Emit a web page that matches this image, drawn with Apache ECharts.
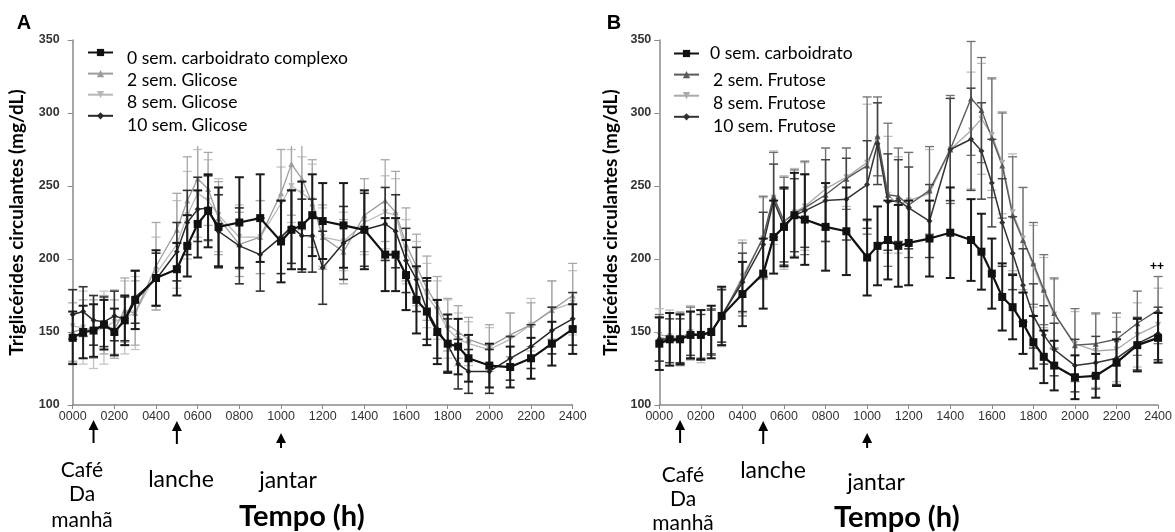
<!DOCTYPE html>
<html><head><meta charset="utf-8">
<script src="https://cdn.jsdelivr.net/npm/echarts@6/dist/echarts.min.js"></script>
<style>html,body{margin:0;padding:0;background:#fff}#c{width:1175px;height:532px}</style>
</head><body><div id="c"></div>
<script>
// ---------- DATA ----------
const times = [0,0.5,1,1.5,2,2.5,3,4,5,5.5,6,6.5,7,8,9,10,10.5,11,11.5,12,13,14,15,15.5,16,16.5,17,17.5,18,18.5,19,20,21,22,23,24];
const xTickLabels = ['0000','0200','0400','0600','0800','1000','1200','1400','1600','1800','2000','2200','2400'];

const namesA = ['0 sem. carboidrato complexo','2 sem. Glicose','8 sem. Glicose','10 sem. Glicose'];
const namesB = ['0 sem. carboidrato','2 sem. Frutose','8 sem. Frutose','10 sem. Frutose'];

// Panel A (glucose)
const a0  = [146,150,151,155,150,158,172,187,193,209,224,233,222,225,228,212,220,223,230,226,223,220,203,203,189,172,164,150,142,140,132,127,126,132,142,152];
const a0e = [18,18,18,17,16,17,20,19,18,21,23,25,27,31,30,28,27,30,28,26,29,27,25,25,24,23,23,22,20,19,16,15,14,14,15,17];
const a2  = [150,152,152,155,152,165,163,195,220,240,255,248,228,210,215,245,265,255,238,215,205,230,240,232,210,195,180,168,155,150,145,140,148,155,165,175];
const a2e = [20,20,20,20,20,22,22,30,25,30,30,25,25,22,25,30,35,30,30,22,22,25,28,28,25,22,22,20,18,18,15,15,15,15,20,22];
const a8  = [154,153,150,153,157,160,163,190,210,230,245,240,230,215,215,238,250,245,240,215,212,225,232,230,205,190,175,165,152,145,142,138,145,155,165,170];
const a8e = [25,25,25,25,22,25,25,25,30,30,30,28,25,22,25,25,25,25,25,20,20,22,25,25,22,22,22,20,20,18,15,15,18,18,20,22];
const a10  = [162,164,158,157,161,159,174,186,205,225,234,235,219,209,203,215,222,216,216,194,211,220,224,219,199,186,165,152,141,128,123,123,132,140,151,159];
const a10e = [17,17,17,17,17,15,18,18,20,22,22,22,25,26,25,25,25,25,25,25,25,25,25,25,22,22,20,20,18,17,15,15,15,15,16,18];

// Panel B (fructose)
const b0  = [142,145,145,148,148,150,161,176,190,215,222,230,227,222,219,201,209,213,209,211,214,218,213,205,190,174,167,156,143,133,127,119,120,129,141,146];
const b0e = [18,18,17,16,17,18,20,22,24,25,27,29,31,30,30,26,27,27,28,29,26,31,28,26,24,23,22,21,18,18,17,15,15,16,18,17];
const b2  = [146,145,145,149,148,150,161,186,215,243,226,231,235,244,255,264,284,244,243,237,247,275,310,302,283,264,230,213,197,179,163,141,142,145,156,165];
const b2e = [16,18,18,18,17,16,18,25,28,30,30,30,32,32,21,47,27,49,33,36,30,37,39,36,41,36,40,36,28,24,24,25,21,18,22,23];
const b8  = [148,147,146,150,147,151,160,188,214,242,225,232,236,248,256,266,282,244,237,240,245,275,288,296,285,266,232,214,195,177,162,142,137,138,148,155];
const b8e = [18,18,18,18,18,17,20,25,28,32,32,30,30,28,20,40,25,40,33,33,30,35,40,38,38,35,40,35,28,24,24,22,25,22,22,25];
const b10  = [145,144,144,149,147,150,161,184,210,240,223,230,233,240,241,251,279,239,240,235,226,275,282,274,252,225,204,182,161,148,138,127,129,132,142,149];
const b10e = [15,15,15,15,15,15,18,20,22,25,25,25,25,28,28,30,28,33,28,28,25,35,35,33,30,30,25,25,22,20,18,18,18,18,18,18];

// ---------- CHART ----------
const chart = echarts.init(document.getElementById('c'), null, {renderer:'canvas'});

function lineS(name, k, vals, color, symbol, size, width, rotate, z) {
  return {name, type:'line', xAxisIndex:k, yAxisIndex:k,
    data: times.map((t,i)=>[t, vals[i]]),
    symbol, symbolSize:size, symbolRotate:rotate||0, showSymbol:true,
    lineStyle:{color, width}, itemStyle:{color, borderWidth:0},
    z, animation:false, silent:true};
}
function errS(k, vals, errs, color, width, z) {
  return {type:'custom', xAxisIndex:k, yAxisIndex:k, silent:true, animation:false, z,
    encode:{x:0, y:[1,2]},
    data: times.map((t,i)=>[t, vals[i]-errs[i], vals[i]+errs[i]]),
    renderItem: function(params, api){
      const x = api.value(0);
      const p1 = api.coord([x, api.value(2)]);
      const p2 = api.coord([x, api.value(1)]);
      const w = 4.5;
      const st = {stroke:color, lineWidth:width};
      return {type:'group', children:[
        {type:'line', shape:{x1:p1[0],y1:p1[1],x2:p2[0],y2:p2[1]}, style:st},
        {type:'line', shape:{x1:p1[0]-w,y1:p1[1],x2:p1[0]+w,y2:p1[1]}, style:st},
        {type:'line', shape:{x1:p2[0]-w,y1:p2[1],x2:p2[0]+w,y2:p2[1]}, style:st}
      ]};
    }};
}

const axisCol = '#8a8a8a';
function xAx(k){
  return {type:'value', gridIndex:k, min:0, max:24, interval:2,
    axisLine:{lineStyle:{color:axisCol, width:1.5}},
    axisTick:{length:4, lineStyle:{color:axisCol}},
    axisLabel:{margin:5, fontSize:12.5, color:'#333', fontFamily:'Liberation Sans',
      formatter:(v)=>xTickLabels[Math.round(v/2)]},
    splitLine:{show:false}};
}
function yAx(k){
  return {type:'value', gridIndex:k, min:100, max:350, interval:50,
    name:'Triglicérides circulantes (mg/dL)', nameLocation:'middle', nameRotate:90, nameGap: k?39:46,
    nameTextStyle:{fontFamily:'Lato', fontWeight:'bold', fontSize:19, color:'#000'},
    axisLine:{show:true, lineStyle:{color:axisCol, width:1.5}},
    axisTick:{show:true, length:5, lineStyle:{color:axisCol}},
    axisLabel:{margin: k?8:13, fontSize:12.5, color:'#333', fontFamily:'Liberation Sans', fontWeight:'bold'},
    splitLine:{show:false}};
}

chart.setOption({
  backgroundColor:'#fff',
  animation:false,
  grid:[{left:72.7, top:40, width:500, height:365},{left:659.3, top:40, width:499, height:365}],
  xAxis:[xAx(0), xAx(1)],
  yAxis:[yAx(0), yAx(1)],
  legend:[
    {data:namesA, left:82, top:43, orient:'vertical', itemWidth:25, itemHeight:9, itemGap:13,
     formatter:()=>'', selectedMode:false, textStyle:{fontSize:1}},
    {data:namesB, left:668, top:44, orient:'vertical', itemWidth:25, itemHeight:9, itemGap:13,
     formatter:()=>'', selectedMode:false, textStyle:{fontSize:1}}
  ],
  series:[
    errS(0, a8, a8e, '#c4c4c4', 1.3, 2),
    errS(0, a2, a2e, '#a8a8a8', 1.3, 2),
    lineS(namesA[2], 0, a8, '#b8b8b8', 'triangle', 6, 1.3, 180, 3),
    lineS(namesA[1], 0, a2, '#9c9c9c', 'triangle', 6, 1.3, 0, 3),
    errS(0, a10, a10e, '#333', 1.6, 4),
    lineS(namesA[3], 0, a10, '#2a2a2a', 'diamond', 6, 1.5, 0, 5),
    errS(0, a0, a0e, '#1a1a1a', 2, 6),
    lineS(namesA[0], 0, a0, '#111', 'rect', 8, 2.2, 0, 7),

    errS(1, b8, b8e, '#bdbdbd', 1.3, 2),
    errS(1, b2, b2e, '#707070', 1.3, 2),
    lineS(namesB[2], 1, b8, '#aaaaaa', 'triangle', 6, 1.3, 180, 3),
    lineS(namesB[1], 1, b2, '#5a5a5a', 'triangle', 6, 1.4, 0, 3),
    errS(1, b10, b10e, '#444', 1.5, 4),
    lineS(namesB[3], 1, b10, '#333', 'diamond', 6, 1.5, 0, 5),
    errS(1, b0, b0e, '#1a1a1a', 2, 6),
    lineS(namesB[0], 1, b0, '#111', 'rect', 8, 2.2, 0, 7)
  ]
});

// ---------- ANNOTATIONS ----------
const g = [];
// white boxes behind pasted legend texts (as in the reference)
g.push({type:'rect', shape:{x:115, y:30, width:203, height:116}, style:{fill:'#fff'}, z:50, silent:true});
g.push({type:'rect', shape:{x:700, y:30, width:160, height:115}, style:{fill:'#fff'}, z:50, silent:true});
g.push({type:'rect', shape:{x:860, y:30, width:75, height:63}, style:{fill:'#fff'}, z:50, silent:true});

function txt(text, x, y, size, opts){
  opts = opts || {};
  return {type:'text', x, y, z:101, silent:true,
    style:{text, fill:'#000', fontFamily: opts.family || 'Lato', fontSize:size,
      fontWeight: opts.weight || 'normal', align: opts.align || 'left', verticalAlign:'middle'}};
}
// panel letters
g.push(txt('A', 24, 23, 20, {family:'Liberation Sans', weight:'bold', align:'center'}));
g.push(txt('B', 614, 23, 20, {family:'Liberation Sans', weight:'bold', align:'center'}));
// legend texts
const legA = [[127,58],[127,80],[127,102.5],[127,125]];
namesA.forEach((n,i)=>g.push(txt(n, legA[i][0], legA[i][1], 17.5)));
const legB = [[710,53],[713,80],[713,103],[713,126]];
namesB.forEach((n,i)=>g.push(txt(n, legB[i][0], legB[i][1], 17.5)));
// meals
g.push(txt('Café', 82, 470, 21, {align:'center'}));
g.push(txt('Da', 82, 494, 21, {align:'center'}));
g.push(txt('manhã', 82, 520, 21, {align:'center'}));
g.push(txt('lanche', 181, 480, 23, {align:'center'}));
g.push(txt('jantar', 288, 481, 23, {align:'center'}));
g.push(txt('Café', 683, 475, 21, {align:'center'}));
g.push(txt('Da', 683, 499, 21, {align:'center'}));
g.push(txt('manhã', 683, 523, 21, {align:'center'}));
g.push(txt('lanche', 773, 471, 23, {align:'center'}));
g.push(txt('jantar', 876, 483, 23, {align:'center'}));
g.push(txt('Tempo (h)', 239, 517, 29, {weight:'bold'}));
g.push(txt('Tempo (h)', 834, 518, 29, {weight:'bold'}));
g.push(txt('++', 1157, 267, 12, {family:'Liberation Sans', weight:'bold', align:'center'}));

// meal arrows (positions from the x axes)
const mealHours = [1, 5, 10];
const arrowTops = [420, 421, 433];
const arrowBots = [443, 444, 448];
[0,1].forEach(k=>{
  mealHours.forEach((h,j)=>{
    const x = chart.convertToPixel({xAxisIndex:k}, h);
    const top = arrowTops[j], bot = arrowBots[j];
    g.push({type:'polygon', z:60, silent:true, shape:{points:[[x,top],[x-5,top+10],[x+5,top+10]]}, style:{fill:'#000'}});
    g.push({type:'line', z:60, silent:true, shape:{x1:x,y1:top+9,x2:x,y2:bot}, style:{stroke:'#000', lineWidth:2}});
  });
});
chart.setOption({graphic:g});
</script></body></html>
